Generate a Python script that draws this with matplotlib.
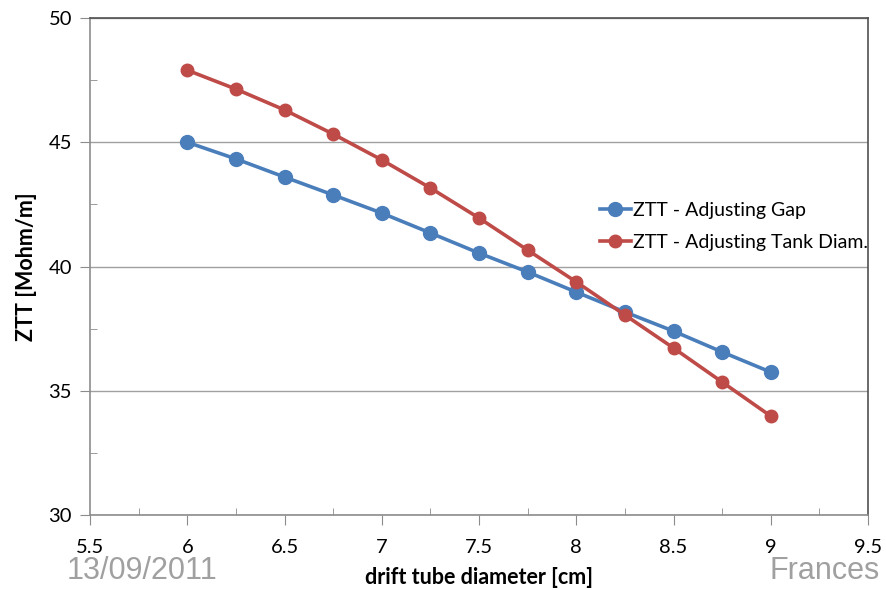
import matplotlib
matplotlib.use("Agg")
import matplotlib.pyplot as plt
from matplotlib.ticker import MultipleLocator, FormatStrFormatter

# drift tube diameter [cm]
diameter = [6, 6.25, 6.5, 6.75, 7, 7.25, 7.5, 7.75, 8, 8.25, 8.5, 8.75, 9]
# ZTT [Mohm/m]
ztt_gap = [45.0, 44.33, 43.6, 42.88, 42.15, 41.35, 40.54, 39.78, 38.97, 38.17, 37.4, 36.56, 35.75]
ztt_tank = [47.9, 47.14, 46.3, 45.33, 44.29, 43.16, 41.95, 40.66, 39.38, 38.05, 36.72, 35.35, 33.98]

label_gap = "ZTT - Adjusting Gap"
label_tank = "ZTT - Adjusting Tank Diam."

plt.rcParams['font.family'] = ['Lato', 'DejaVu Sans']

fig = plt.figure(figsize=(8.86, 5.9), dpi=100)
ax = fig.add_axes([0.1016, 0.1271, 0.8781, 0.8424])

ax.plot(diameter, ztt_gap, color='#4a7ebb', lw=2.6, marker='o', ms=10, label=label_gap, zorder=3)
ax.plot(diameter, ztt_tank, color='#be4b48', lw=2.6, marker='o', ms=9, label=label_tank, zorder=3)

ax.set_xlim(5.5, 9.5)
ax.set_ylim(30, 50)
ax.xaxis.set_major_locator(MultipleLocator(0.5))
ax.xaxis.set_minor_locator(MultipleLocator(0.25))
ax.xaxis.set_major_formatter(FormatStrFormatter('%g'))
ax.yaxis.set_major_locator(MultipleLocator(5))
ax.yaxis.set_minor_locator(MultipleLocator(2.5))

ax.grid(axis='y', which='major', color='#a0a0a0', lw=1)
ax.set_axisbelow(True)

for side in ['left', 'bottom']:
    ax.spines[side].set_color('#8c8c8c')
    ax.spines[side].set_linewidth(1.2)
for side in ['top', 'right']:
    ax.spines[side].set_color('#505050')
    ax.spines[side].set_linewidth(1.2)

ax.tick_params(which='major', direction='out', length=7, color='#8c8c8c', labelsize=14.5, pad=6)
ax.tick_params(which='minor', direction='in', length=5, color='#8c8c8c')
ax.tick_params(axis='x', pad=10)

ax.set_xlabel("drift tube diameter [cm]", fontsize=15.5, fontweight='bold', labelpad=8)
ax.set_ylabel("ZTT [Mohm/m]", fontsize=15.5, fontweight='bold', labelpad=8)

ax.legend(loc='upper left', bbox_to_anchor=(0.645, 0.645), frameon=False, fontsize=14,
          handlelength=1.6, handletextpad=0.1, labelspacing=0.75, borderaxespad=0)

fig.text(0.075, 0.018, "13/09/2011", fontsize=22, color='#a0a0a0', family='Liberation Sans')
fig.text(0.868, 0.018, "Frances", fontsize=22, color='#a0a0a0', family='Liberation Sans')

fig.savefig("out.png", dpi=100)
